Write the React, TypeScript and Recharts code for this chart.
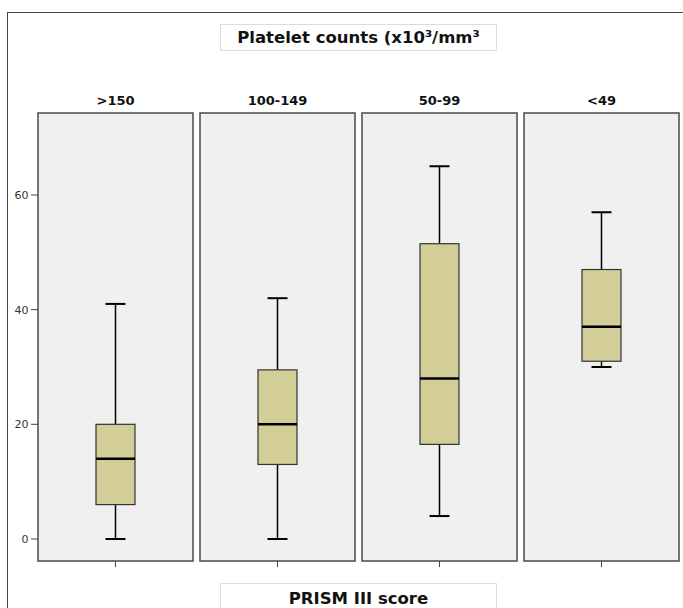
import { Bar, ComposedChart, XAxis, YAxis } from "recharts";

const categories = [">150", "100-149", "50-99", "<49"];
const mins = [0, 0, 4, 30];
const q1s = [6, 13, 16.5, 31];
const medians = [14, 20, 28, 37];
const q3s = [20, 29.5, 51.5, 47];
const maxs = [41, 42, 65, 57];
const yTicks = [0, 20, 40, 60];

const data = categories.map((group, i) => ({
  group,
  min: mins[i],
  q1: q1s[i],
  median: medians[i],
  q3: q3s[i],
  max: maxs[i],
  range: [mins[i], maxs[i]],
}));

const FONT = '"DejaVu Sans", sans-serif';

/** Box-and-whisker drawn inside the [min, max] range bar; inner values are
 *  placed by interpolating along the bar the y scale already laid out. */
function BoxShape(props: any) {
  const { x, y, width, height, payload } = props;
  const top = Math.min(y, y + height);
  const span = Math.abs(height);
  const { min, max, q1, median, q3 } = payload;
  const toY = (v: number) => top + (span * (max - v)) / (max - min);
  const cx = x + width / 2;
  const boxW = 39;
  const capW = 20;
  return (
    <g>
      <line x1={cx} x2={cx} y1={toY(max)} y2={toY(q3)} stroke="#000" strokeWidth={1.5} />
      <line x1={cx} x2={cx} y1={toY(q1)} y2={toY(min)} stroke="#000" strokeWidth={1.5} />
      <line x1={cx - capW / 2} x2={cx + capW / 2} y1={toY(max)} y2={toY(max)} stroke="#000" strokeWidth={2} />
      <line x1={cx - capW / 2} x2={cx + capW / 2} y1={toY(min)} y2={toY(min)} stroke="#000" strokeWidth={2} />
      <rect
        x={cx - boxW / 2}
        y={toY(q3)}
        width={boxW}
        height={toY(q1) - toY(q3)}
        fill="#d3ce98"
        stroke="#333"
        strokeWidth={1.2}
      />
      <line x1={cx - boxW / 2} x2={cx + boxW / 2} y1={toY(median)} y2={toY(median)} stroke="#000" strokeWidth={2.5} />
    </g>
  );
}

function YTick(props: any) {
  const { x, y, payload } = props;
  return (
    <g>
      <line x1={x - 3.5} x2={x + 3.5} y1={y} y2={y} stroke="#444" strokeWidth={1} />
      <text x={x - 6} y={y + 4} textAnchor="end" fontSize={11} fontFamily={FONT} fill="#333">
        {payload.value}
      </text>
    </g>
  );
}

function HeaderTick(props: any) {
  const { x, y, payload } = props;
  return (
    <text x={x} y={y - 8} textAnchor="middle" fontSize={13} fontWeight="bold" fontFamily={FONT} fill="#111">
      {payload.value}
    </text>
  );
}

const emptyTick = () => <g />;

const labelBox = {
  position: "absolute" as const,
  left: 220,
  width: 277,
  border: "1px solid #dcdcdc",
  background: "#fff",
  textAlign: "center" as const,
  fontFamily: FONT,
  fontWeight: "bold" as const,
  fontSize: 16.5,
  color: "#111",
  boxSizing: "border-box" as const,
};

export default function App() {
  return (
    <div style={{ position: "absolute", left: 0, top: 0, width: 683, height: 608, overflow: "hidden", background: "#fff" }}>
      <div
        style={{
          position: "absolute",
          left: 7,
          top: 12,
          width: 720,
          height: 640,
          borderLeft: "1.5px solid #444",
          borderTop: "1.5px solid #444",
        }}
      />
      <div style={{ position: "absolute", left: 0, top: 0 }}>
        <ComposedChart width={683} height={608} data={data} margin={{ top: 83, right: 0.5, bottom: 27, left: 4.5 }} barCategoryGap={3.5}>
          <XAxis
            xAxisId="top"
            dataKey="group"
            orientation="top"
            height={30}
            axisLine={false}
            tickLine={false}
            tickSize={0}
            tickMargin={0}
            tick={<HeaderTick />}
            interval={0}
          />
          <XAxis
            dataKey="group"
            height={20}
            axisLine={false}
            tickLine={{ stroke: "#444", strokeWidth: 1 }}
            tickSize={6}
            tick={emptyTick}
            interval={0}
          />
          <YAxis
            type="number"
            domain={[-3.84, 74.3]}
            ticks={yTicks}
            allowDataOverflow
            width={30}
            axisLine={false}
            tickLine={false}
            tickSize={0}
            tickMargin={0}
            tick={<YTick />}
          />
          <Bar
            dataKey="range"
            isAnimationActive={false}
            background={{ fill: "#f0f0f0", stroke: "#4a4a4a", strokeWidth: 1.5 }}
            shape={<BoxShape />}
          />
        </ComposedChart>
      </div>
      <div style={{ ...labelBox, top: 24, height: 27, lineHeight: "26px" }}>Platelet counts (x10³/mm³</div>
      <div style={{ ...labelBox, top: 583, height: 30, lineHeight: "29px" }}>PRISM III score</div>
    </div>
  );
}
